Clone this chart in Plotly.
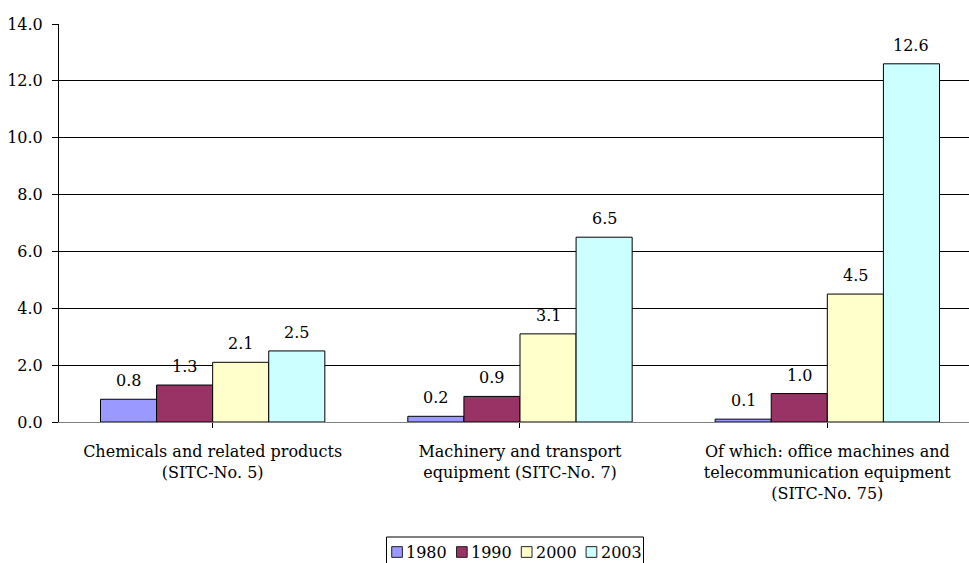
import plotly.graph_objects as go

# Categories (SITC groups) and yearly values
categories = [
    "Chemicals and related products<br>(SITC-No. 5)",
    "Machinery and transport<br>equipment (SITC-No. 7)",
    "Of which: office machines and<br>telecommunication equipment<br>(SITC-No. 75)",
]
years = ["1980", "1990", "2000", "2003"]
values_1980 = [0.8, 0.2, 0.1]
values_1990 = [1.3, 0.9, 1.0]
values_2000 = [2.1, 3.1, 4.5]
values_2003 = [2.5, 6.5, 12.6]
y_ticks = [0, 2, 4, 6, 8, 10, 12, 14]

series = [values_1980, values_1990, values_2000, values_2003]
colors = ["#9999FF", "#993366", "#FFFFCC", "#CCFFFF"]

FONT = "DejaVu Serif"
FS = 16
BARGAP = 0.27

# canvas / plot-area geometry in pixels
WIDTH, HEIGHT = 969, 563
M_L, M_R, M_T, M_B = 59, 0, 24, 141
PW = WIDTH - M_L - M_R
PH = HEIGHT - M_T - M_B


def px_x(px):
    return (px - M_L) / PW


def px_y(py):
    return (M_T + PH - py) / PH


fig = go.Figure()
for name, vals, col in zip(years, series, colors):
    fig.add_trace(go.Bar(
        x=list(range(len(categories))),
        y=vals,
        name=name,
        marker=dict(color=col, line=dict(color="#000000", width=1)),
    ))

# value labels above each bar
n = len(series)
w = (1 - BARGAP) / n
annotations = []
for j, vals in enumerate(series):
    for i, v in enumerate(vals):
        annotations.append(dict(
            x=i + (j - (n - 1) / 2) * w, y=v, xref="x", yref="y",
            text=f"{v:.1f}", showarrow=False, yanchor="bottom", yshift=7,
            font=dict(family=FONT, size=FS, color="#000000"),
        ))

# compact boxed legend below the axis
shapes = []
LEG_LEFT, LEG_RIGHT, LEG_TOP, LEG_BOTTOM = 386.5, 643.5, 537, 566
SQ_X0, SQ_STEP, SQ = 391.7, 64.8, 10.7
SQ_YC = 552
shapes.append(dict(
    type="rect", xref="paper", yref="paper",
    x0=px_x(LEG_LEFT), x1=px_x(LEG_RIGHT), y0=px_y(LEG_BOTTOM), y1=px_y(LEG_TOP),
    line=dict(color="#000000", width=1), fillcolor="rgba(0,0,0,0)", layer="above",
))
for k, (name, col) in enumerate(zip(years, colors)):
    sx = SQ_X0 + k * SQ_STEP
    shapes.append(dict(
        type="rect", xref="paper", yref="paper",
        x0=px_x(sx), x1=px_x(sx + SQ),
        y0=px_y(SQ_YC + SQ / 2), y1=px_y(SQ_YC - SQ / 2),
        line=dict(color="#222222", width=1), fillcolor=col, layer="above",
    ))
    annotations.append(dict(
        x=px_x(sx + SQ + 2), y=px_y(SQ_YC), xref="paper", yref="paper",
        text=name, showarrow=False, xanchor="left", yanchor="middle",
        font=dict(family=FONT, size=FS, color="#000000"),
    ))

fig.update_layout(
    width=WIDTH, height=HEIGHT,
    margin=dict(l=M_L, r=M_R, t=M_T, b=M_B, autoexpand=False),
    paper_bgcolor="white", plot_bgcolor="white",
    barmode="group", bargap=BARGAP, bargroupgap=0,
    font=dict(family=FONT, size=FS, color="#000000"),
    annotations=annotations,
    shapes=shapes,
    showlegend=False,
)

fig.update_xaxes(
    tickmode="array", tickvals=list(range(len(categories))), ticktext=categories,
    range=[-0.5, 2.461], showgrid=False, zeroline=False,
    showline=True, linecolor="#808080", linewidth=1,
    ticks="outside", tickson="boundaries", ticklen=5, tickcolor="#000000",
    ticklabelstandoff=10,
)
fig.update_yaxes(
    range=[0, 14], tickvals=y_ticks, tickformat=".1f",
    showgrid=True, gridcolor="#000000", gridwidth=1, zeroline=False,
    showline=True, linecolor="#000000", linewidth=1,
    ticks="outside", ticklen=6, tickcolor="#000000",
    ticklabelstandoff=6,
)

fig.write_html("out.html")
